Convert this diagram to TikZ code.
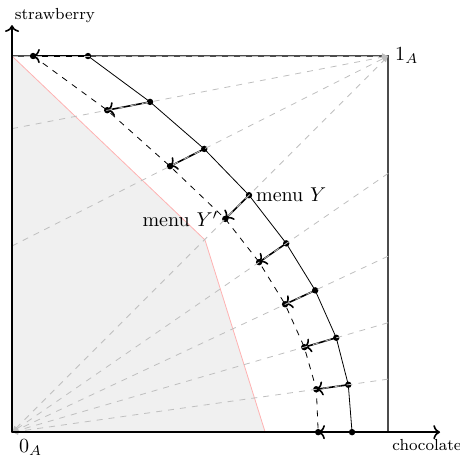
\documentclass[tikz,border=0pt]{standalone}
\usepackage{amsmath}
\usepackage{amssymb}
\usetikzlibrary{calc,arrows,arrows.meta,positioning}

\begin{document}
\begin{tikzpicture}[x=6.6cm,y=6.6cm,
  ray/.style={black!25, dashed, thin, -{Latex[length=3pt,width=3pt]}},
  move/.style={black, thick, ->}]

  \useasboundingbox (-0.032,-0.066) rectangle (1.191,1.149);

  \coordinate (O) at (0,0);
  \coordinate (I) at (1,1);

  % menu Y
  \coordinate (y1) at (0.202,1);
  \coordinate (y2) at (0.367,0.878);
  \coordinate (y3) at (0.511,0.753);
  \coordinate (y4) at (0.630,0.630);
  \coordinate (y5) at (0.729,0.502);
  \coordinate (y6) at (0.806,0.377);
  \coordinate (y7) at (0.862,0.251);
  \coordinate (y8) at (0.894,0.126);
  \coordinate (y9) at (0.904,0);

  % menu Y'
  \coordinate (z1) at (0.056,1);
  \coordinate (z2) at (0.253,0.856);
  \coordinate (z3) at (0.420,0.707);
  \coordinate (z4) at (0.567,0.567);
  \coordinate (z5) at (0.657,0.452);
  \coordinate (z6) at (0.726,0.340);
  \coordinate (z7) at (0.777,0.226);
  \coordinate (z8) at (0.809,0.114);
  \coordinate (z9) at (0.814,0);

  \draw[black!70, thick] (O) rectangle (I);
  \draw[dashed] (0,1) -- (I);
  \draw[dashed] (O) -- (1,0);

  \filldraw[fill=black!6, draw=red!30] (O) -- (0,1) -- (0.513,0.511) -- (0.673,0) -- cycle;

  \draw (y1) -- (y2) -- (y3) -- (y4) -- (y5) -- (y6) -- (y7) -- (y8) -- (y9);
  \draw[dashed] (z1) -- (z2) -- (z3) -- (z4) -- (z5) -- (z6) -- (z7) -- (z8) -- (z9);

  \foreach \i in {1,...,9} {
    \draw[move] (y\i) -- (z\i);
    \fill (y\i) circle (1.6pt);
    \fill (z\i) circle (1.6pt);
  }

  % rays to the corners
  \draw[ray] (0,1) -- (I);
  \draw[ray] (0,0.807) -- (I);
  \draw[ray] (0,0.495) -- (I);
  \draw[ray, {Latex[length=3pt,width=3pt]}-{Latex[length=3pt,width=3pt]}] (O) -- (I);
  \draw[ray] (1,0.688) -- (O);
  \draw[ray] (1,0.468) -- (O);
  \draw[ray] (1,0.291) -- (O);
  \draw[ray] (1,0.141) -- (O);
  \draw[ray] (1,0) -- (O);

  \draw[thick,->] (O) -- (1.138,0) node[below, xshift=-2.3mm, font=\footnotesize] (choc) {chocolate};
  \draw[thick,->] (O) -- (0,1.082) node[anchor=south west, inner sep=1pt, font=\footnotesize] (straw) {strawberry};

  \node[below right] (zero) at (O) {$0_A$};
  \node[right] (one) at (I) {$1_A$};
  \node[right] (menuY) at (y4) {menu $Y$};
  \node[left] (menuZ) at (z4) {menu $Y'$};

\end{tikzpicture}
\end{document}
